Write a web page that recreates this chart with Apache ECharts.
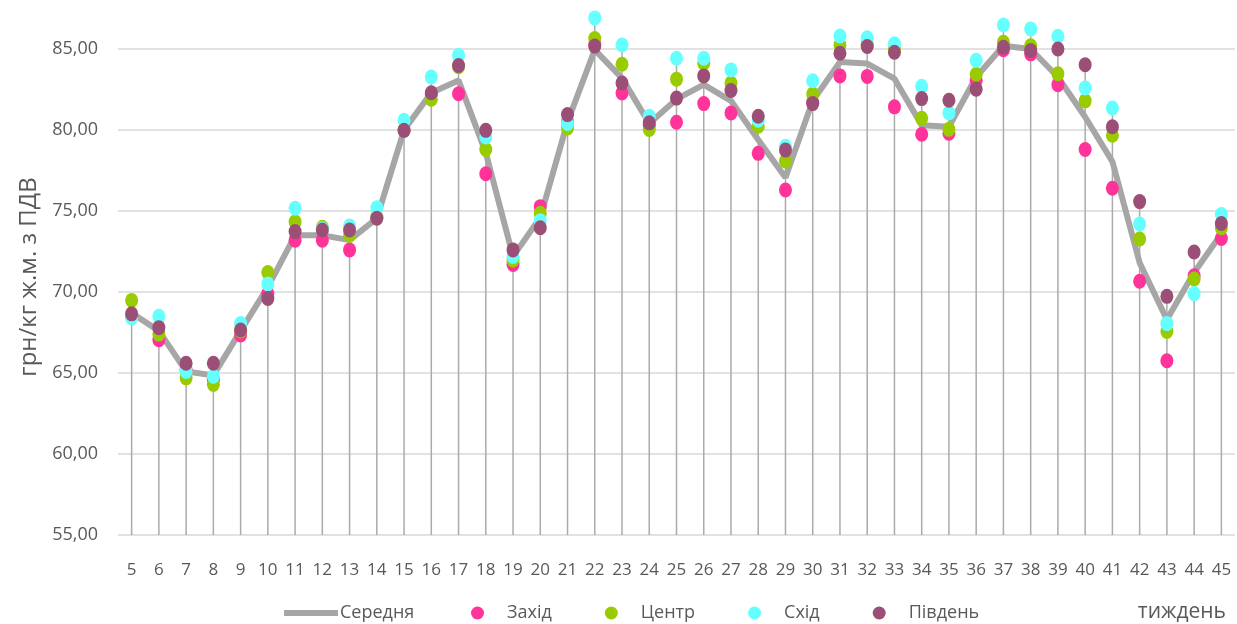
<!DOCTYPE html>
<html>
<head>
<meta charset="utf-8">
<script src="https://cdn.jsdelivr.net/npm/echarts@6/dist/echarts.min.js"></script>
<style>
  html, body { margin: 0; padding: 0; background: #fff; }
  #chart { width: 1237px; height: 624px; }
</style>
</head>
<body>
<div id="chart"></div>
<script>
const weeks = ['5','6','7','8','9','10','11','12','13','14','15','16','17','18','19','20','21','22','23','24','25',
  '26','27','28','29','30','31','32','33','34','35','36','37','38','39','40','41','42','43','44','45']

// середня
const meanData = [68.7, 67.6, 65.1, 64.85, 67.6, 70.3, 73.5, 73.5, 73.2, 74.55, 80.0, 82.3, 83.06, 78.6, 72.2, 74.6, 80.5,
  84.95, 83.2, 80.4, 81.9, 82.8, 81.8, 79.4, 77.07, 81.8, 84.2, 84.1, 83.17, 80.3, 80.2, 83.27, 85.2, 85.0, 83.27,
  80.8, 78.05, 71.8, 68.3, 71.2, 73.6]
// захід
const westData = [68.5, 67.05, 65.2, 64.6, 67.35, 69.9, 73.2, 73.2, 72.6, 74.6, 80.0, 82.2, 82.24, 77.3, 71.7, 75.27, 80.5,
  85.3, 82.28, 80.3, 80.48, 81.63, 81.05, 78.56, 76.3, 81.7, 83.34, 83.31, 81.43, 79.74, 79.8, 83.07, 84.95, 84.7, 82.8,
  78.8, 76.4, 70.66, 65.76, 71.0, 73.3]
// центр
const centerData = [69.48, 67.4, 64.7, 64.3, 67.6, 71.2, 74.34, 74.0, 73.5, 74.6, 80.0, 81.9, 83.9, 78.8, 71.98, 74.86, 80.13,
  85.65, 84.06, 80.03, 83.14, 84.12, 82.9, 80.23, 78.09, 82.22, 85.25, 85.3, 85.0, 80.72, 80.04, 83.44, 85.42, 85.2, 83.47,
  81.8, 79.68, 73.27, 67.57, 70.8, 73.97]
// схід
const eastData = [68.4, 68.5, 65.1, 64.8, 68.05, 70.5, 75.17, 73.9, 74.07, 75.2, 80.6, 83.27, 84.6, 79.57, 72.2, 74.4, 80.4,
  86.92, 85.25, 80.85, 84.43, 84.43, 83.71, 80.6, 79.0, 83.04, 85.8, 85.69, 85.32, 82.7, 81.06, 84.3, 86.48, 86.24, 85.79,
  82.6, 81.36, 74.2, 68.05, 69.9, 74.78]
// південь
const southData = [68.65, 67.8, 65.6, 65.6, 67.65, 69.6, 73.73, 73.83, 73.83, 74.55, 79.98, 82.3, 83.98, 79.98, 72.6, 73.97, 80.95,
  85.18, 82.9, 80.44, 81.97, 83.34, 82.44, 80.85, 78.76, 81.63, 84.74, 85.15, 84.8, 81.94, 81.84, 82.52, 85.11, 84.9, 85.0,
  84.03, 80.2, 75.58, 69.73, 72.47, 74.23]

const yTicks = [55, 60, 65, 70, 75, 80, 85]

// вертикальні лінії: від осі (55) до найвищої точки тижня
const yMin = yTicks[0]
const dropBase = weeks.map(() => yMin)
const dropData = weeks.map((w, i) => Math.max(meanData[i], westData[i], centerData[i], eastData[i], southData[i]) - yMin)

const textColor = '#595959'
const font = "'Open Sans', 'DejaVu Sans', sans-serif"

const chart = echarts.init(document.getElementById('chart'))

const dotSeries = (name, data, color) => ({
  name: name,
  type: 'line',
  data: data,
  clip: false,
  symbol: 'circle',
  symbolSize: [13, 15],
  showSymbol: true,
  lineStyle: {width: 0, opacity: 0},
  itemStyle: {color: color, opacity: 1},
  z: 5
})

const option = {
  animation: false,
  grid: {
    left: 118,
    right: 2,
    top: 49,
    bottom: 89
  },
  legend: [
    {
      data: [{name: 'Середня', icon: 'rect'}],
      left: 279,
      top: 599,
      itemWidth: 54,
      itemHeight: 6,
      textStyle: {color: textColor, fontSize: 18, fontFamily: font, padding: [0, 0, 0, -3]}
    },
    {
      data: ['Захід', 'Центр', 'Схід', 'Південь'],
      left: 466,
      top: 599,
      icon: 'circle',
      itemWidth: 13,
      itemHeight: 15,
      itemGap: 53,
      textStyle: {color: textColor, fontSize: 18, fontFamily: font, padding: [0, 0, 0, 18]}
    }
  ],
  title: {
    text: 'тиждень',
    right: 6,
    top: 597,
    textStyle: {color: textColor, fontSize: 21, fontWeight: 'normal', fontFamily: font}
  },
  xAxis: {
    type: 'category',
    data: weeks,
    boundaryGap: true,
    axisLine: {show: false},
    axisTick: {show: false},
    axisLabel: {
      color: textColor,
      fontSize: 17,
      fontFamily: "'Liberation Sans Narrow', 'Open Sans', sans-serif",
      margin: 27,
      interval: 0
    },
    splitLine: {show: false}
  },
  yAxis: {
    type: 'value',
    min: yMin,
    max: yTicks[yTicks.length - 1],
    interval: 5,
    name: 'грн/кг ж.м. з ПДВ',
    nameLocation: 'middle',
    nameGap: 76,
    nameTextStyle: {color: textColor, fontSize: 24, fontFamily: font, padding: [0, 0, 0, 30]},
    axisLine: {show: false},
    axisTick: {show: false},
    axisLabel: {
      color: textColor,
      fontSize: 18,
      fontFamily: font,
      margin: 20,
      formatter: v => v.toFixed(2).replace('.', ',')
    },
    splitLine: {lineStyle: {color: '#d9d9d9', width: 1.5}}
  },
  series: [
    {
      name: 'dropBase',
      type: 'bar',
      stack: 'drop',
      data: dropBase,
      barWidth: 1.5,
      itemStyle: {color: 'rgba(0,0,0,0)'},
      silent: true,
      z: 1
    },
    {
      name: 'drop',
      type: 'bar',
      stack: 'drop',
      data: dropData,
      barWidth: 1.5,
      clip: false,
      itemStyle: {color: '#ababab'},
      silent: true,
      z: 1
    },
    {
      name: 'Середня',
      type: 'line',
      data: meanData,
      clip: false,
      showSymbol: false,
      symbol: 'none',
      lineStyle: {color: '#a6a6a6', width: 6},
      itemStyle: {color: '#a6a6a6'},
      z: 3
    },
    dotSeries('Захід', westData, '#ff3399'),
    dotSeries('Центр', centerData, '#99cc00'),
    dotSeries('Схід', eastData, '#66ffff'),
    dotSeries('Південь', southData, '#9b4f77')
  ]
}

chart.setOption(option)
</script>
</body>
</html>
